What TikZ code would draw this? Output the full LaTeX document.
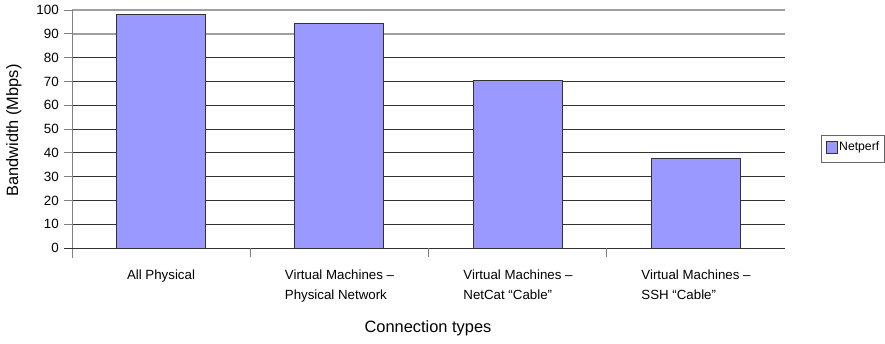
\documentclass[tikz,border=0pt]{standalone}
\usepackage{fontspec}
\setmainfont{Liberation Sans}
\usetikzlibrary{positioning}
\definecolor{barfill}{HTML}{9999FF}
\definecolor{gridline}{HTML}{333333}
\definecolor{axisgray}{HTML}{808080}

\begin{document}
\begin{tikzpicture}[x=1pt,y=-1pt,
  grid/.style={gridline,line width=1pt},
  softgrid/.style={gray!75,line width=1.6pt},
  bar/.style={draw=gridline,fill=barfill,line width=1pt},
  axis/.style={axisgray,line width=1pt},
  ticklbl/.style={font=\fontsize{13.4}{16}\selectfont,anchor=east,inner sep=0pt},
  catlbl/.style={font=\fontsize{13.3}{20}\selectfont,align=left,anchor=north,inner sep=0pt},
  axtitle/.style={font=\fontsize{16.4}{20}\selectfont,inner sep=0pt},
  legbox/.style={draw=gray!80!black,line width=0.8pt}
]
\useasboundingbox (0,0) rectangle (885,343);

% grid lines and y ticks
\foreach \v in {0,10,...,80}
  \draw[grid] (72,{248-2.38*\v}) -- (785,{248-2.38*\v});
\foreach \v in {90,100}
  \draw[softgrid] (72,{248-2.38*\v}) -- (785,{248-2.38*\v});
\foreach \v in {0,10,...,100} {
  \draw[axis] (64,{248-2.38*\v}) -- (72,{248-2.38*\v});
  \node[ticklbl] (y\v) at (59,{248-2.38*\v}) {\v};
}

% bars
\foreach \i/\v in {1/98,2/94.4,3/70.5,4/37.8}
  \draw[bar] ({72+178.25*(\i-0.5)-44.5},248) rectangle ({72+178.25*(\i-0.5)+44.5},{248-2.38*\v});

% axes
\draw[axis] (72,10) -- (72,258);
\draw[grid] (64,248) -- (785,248);
\foreach \i in {1,2,3}
  \draw[axis] ({72+178.25*\i},248) -- ({72+178.25*\i},257);

% category labels
\node[catlbl] (c1) at (161,270) {All Physical};
\node[catlbl] (c2) at (339.5,270) {Virtual Machines --\\Physical Network};
\node[catlbl] (c3) at (518,270) {Virtual Machines --\\NetCat ``Cable''};
\node[catlbl] (c4) at (696,270) {Virtual Machines --\\SSH ``Cable''};

% axis titles
\node[axtitle] (xt) at (428,328) {Connection types};
\node[axtitle,rotate=90] (yt) at (14,130.5) {Bandwidth (Mbps)};

% legend
\draw[legbox] (821,135) rectangle (884,162);
\draw[bar,line width=0.8pt] (826,141) rectangle (837,153);
\node[font=\fontsize{12.2}{14}\selectfont,anchor=west,inner sep=0pt] (leg) at (839,147.5) {Netperf};
\end{tikzpicture}
\end{document}
